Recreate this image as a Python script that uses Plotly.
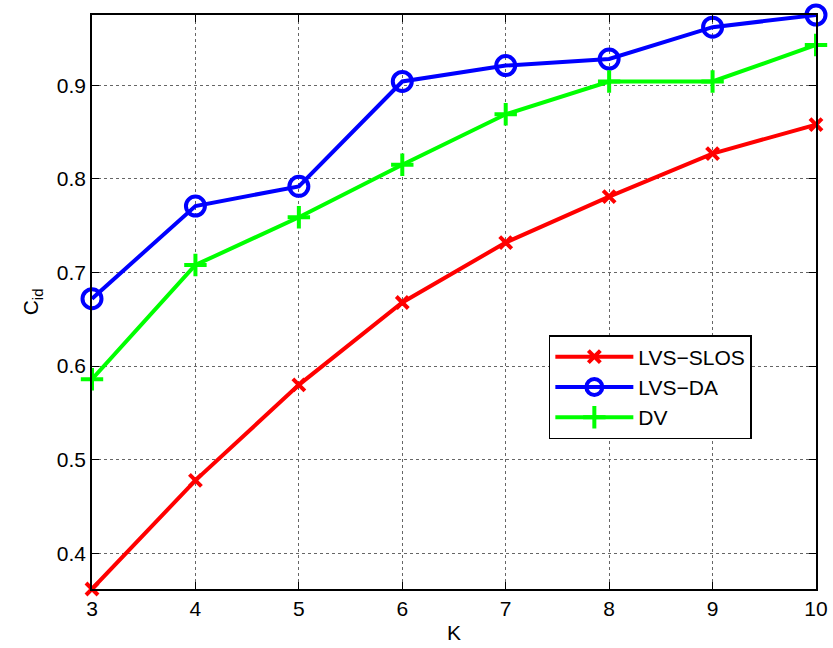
import plotly.graph_objects as go

# Number of clusters K
k_values = [3, 4, 5, 6, 7, 8, 9, 10]

# Identification coefficient C_id for each method
lvs_slos = [0.362, 0.478, 0.580, 0.668, 0.732, 0.781, 0.827, 0.858]
lvs_da = [0.672, 0.771, 0.792, 0.904, 0.921, 0.928, 0.962, 0.975]
dv = [0.586, 0.708, 0.759, 0.815, 0.869, 0.904, 0.904, 0.943]

y_ticks = [0.4, 0.5, 0.6, 0.7, 0.8, 0.9]

font_family = "Liberation Sans, Arial, Helvetica, sans-serif"
label_size = 21

fig = go.Figure()

fig.add_trace(go.Scatter(
    x=k_values, y=lvs_slos, name="LVS\u2212SLOS", mode="lines+markers",
    line=dict(color="#ff0000", width=4),
    marker=dict(symbol="x-thin", size=12, color="#ff0000",
                line=dict(color="#ff0000", width=4)),
    cliponaxis=False,
))
fig.add_trace(go.Scatter(
    x=k_values, y=lvs_da, name="LVS\u2212DA", mode="lines+markers",
    line=dict(color="#0000ff", width=4),
    marker=dict(symbol="circle-open", size=19, color="#0000ff",
                line=dict(color="#0000ff", width=4)),
    cliponaxis=False,
))
fig.add_trace(go.Scatter(
    x=k_values, y=dv, name="DV", mode="lines+markers",
    line=dict(color="#00ff00", width=4),
    marker=dict(symbol="cross-thin", size=16, color="#00ff00",
                line=dict(color="#00ff00", width=4)),
    cliponaxis=False,
))

axis_common = dict(
    showline=True, linecolor="black", linewidth=1.5, mirror="ticks",
    ticks="inside", ticklen=7, tickcolor="black", tickwidth=1,
    showgrid=True, gridcolor="#666666", griddash="dot", gridwidth=1,
    zeroline=False, automargin=False,
    tickfont=dict(family=font_family, size=label_size, color="black"),
)

fig.update_xaxes(
    range=[3, 10], tickvals=k_values, ticktext=[str(k) for k in k_values],
    title=dict(text="K", font=dict(family=font_family, size=label_size, color="black"),
               standoff=6),
    **axis_common,
)
fig.update_yaxes(
    range=[min(lvs_slos), max(lvs_da)], tickvals=y_ticks,
    ticktext=[f"{v:.1f}" for v in y_ticks],
    title=dict(text="C<sub>id</sub>",
               font=dict(family=font_family, size=label_size, color="black"),
               standoff=12),
    **axis_common,
)

fig.update_layout(
    width=833, height=648,
    margin=dict(l=92, r=17, t=15, b=59),
    paper_bgcolor="white", plot_bgcolor="white",
    font=dict(family=font_family, size=label_size, color="black"),
    showlegend=True,
    legend=dict(
        x=0.631, y=0.4425, xanchor="left", yanchor="top",
        bgcolor="white", bordercolor="black", borderwidth=1.5,
        font=dict(family=font_family, size=label_size, color="black"),
        itemwidth=78, tracegroupgap=0,
    ),
)

fig.write_html("out.html")
